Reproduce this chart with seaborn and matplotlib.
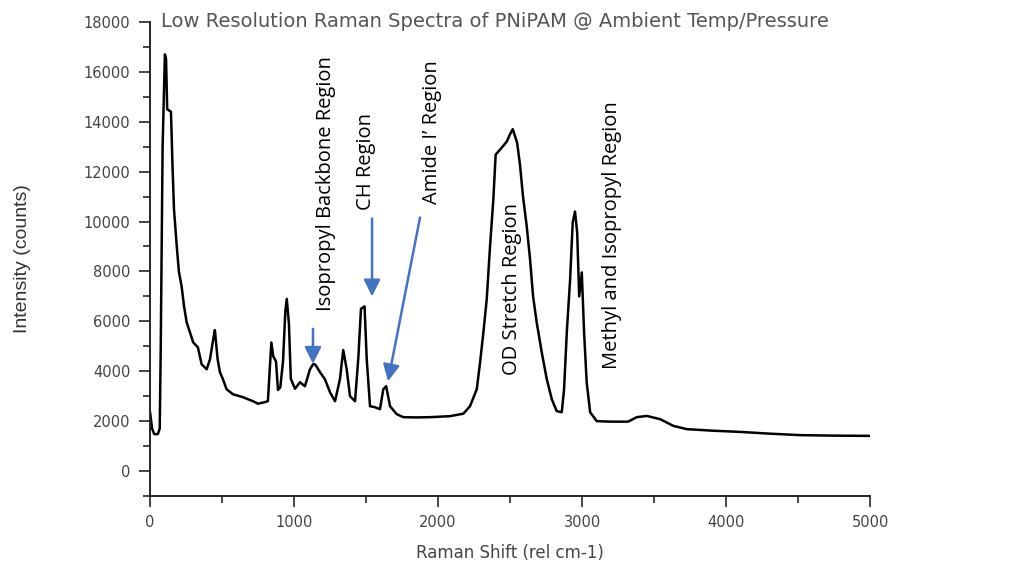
import matplotlib
matplotlib.use("Agg")
import matplotlib.pyplot as plt
from matplotlib.ticker import MultipleLocator
import seaborn as sns
import pandas as pd

# Raman spectrum
raman_shift = [0, 15, 30, 55, 68, 75, 88, 104, 112, 120, 146, 157, 167, 185, 201, 220, 237, 255, 278, 300,
               333, 359, 394, 417, 440, 451, 470, 486, 507, 532, 576, 646, 715, 750, 790, 819, 833, 843, 856, 875,
               889, 905, 924, 940, 950, 965, 978, 1007, 1042, 1076, 1111, 1135, 1150, 1181, 1215, 1250, 1285, 1319,
               1342, 1366, 1389, 1424, 1447, 1465, 1490, 1505, 1528, 1562, 1597, 1620, 1640, 1667, 1713, 1759, 1852,
               1944, 2083, 2176, 2222, 2269, 2292, 2315, 2338, 2361, 2384, 2400, 2442, 2477, 2500, 2519, 2549, 2569,
               2590, 2616, 2639, 2660, 2685, 2720, 2755, 2790, 2824, 2859, 2875, 2894, 2917, 2935, 2951, 2966, 2980,
               2998, 3014, 3032, 3056, 3102, 3200, 3319, 3380, 3449, 3542, 3634, 3727, 3900, 4097, 4300, 4514, 4750, 5000]
intensity = [2400, 1700, 1480, 1480, 1700, 4900, 13000, 16700, 16500, 14500, 14400, 12200, 10500, 9100, 8000, 7400,
             6600, 5960, 5560, 5160, 4960, 4280, 4080, 4480, 5300, 5650, 4480, 3960, 3680, 3280, 3080, 2960, 2800,
             2700, 2750, 2800, 4200, 5150, 4600, 4400, 3250, 3350, 4400, 6400, 6900, 5900, 3700, 3300, 3560, 3400,
             4080, 4300, 4250, 3960, 3680, 3160, 2800, 3680, 4850, 4080, 3000, 2800, 4560, 6500, 6600, 4480, 2600,
             2560, 2480, 3280, 3400, 2600, 2280, 2160, 2150, 2160, 2200, 2300, 2600, 3280, 4360, 5560, 6880, 9000,
             10880, 12680, 12960, 13200, 13500, 13700, 13160, 12280, 11000, 9800, 8480, 7000, 5960, 4760, 3680, 2880,
             2400, 2360, 3280, 5560, 7680, 9960, 10400, 9560, 7000, 7960, 5560, 3560, 2360, 2000, 1980, 1980, 2160,
             2210, 2080, 1810, 1680, 1620, 1570, 1500, 1440, 1420, 1410]

region_labels = ["Isopropyl Backbone Region", "CH Region", "Amide I\u2019 Region",
                 "OD Stretch Region", "Methyl and Isopropyl Region"]

title_text = "Low Resolution Raman Spectra of PNiPAM @ Ambient Temp/Pressure"
x_label = "Raman Shift (rel cm-1)"
y_label = "Intensity (counts)"

df = pd.DataFrame({"shift": raman_shift, "intensity": intensity})

sns.set_style("ticks")
plt.rcParams["font.family"] = ["DejaVu Sans"]

fig = plt.figure(figsize=(10.13, 5.62), dpi=100)
ax = fig.add_axes([0.148, 0.1174, 0.711, 0.8436])

sns.lineplot(data=df, x="shift", y="intensity", ax=ax, color="black", linewidth=1.8,
             sort=False, estimator=None)

ax.set_xlim(0, 5000)
ax.set_ylim(-1000, 18000)
ax.xaxis.set_major_locator(MultipleLocator(1000))
ax.xaxis.set_minor_locator(MultipleLocator(500))
ax.yaxis.set_major_locator(MultipleLocator(2000))
ax.yaxis.set_minor_locator(MultipleLocator(1000))
ax.tick_params(which="major", direction="out", length=8, width=1.2, labelsize=10.5,
               labelcolor="#444444", pad=6)
ax.tick_params(which="minor", direction="out", length=5, width=1.2)
sns.despine(ax=ax)
for s in ("left", "bottom"):
    ax.spines[s].set_linewidth(1.4)

ax.set_xlabel(x_label, fontsize=12, color="#444444", labelpad=10)
ax.set_ylabel(y_label, fontsize=14, color="#333333", family="Liberation Sans", labelpad=38)

fig.text(0.159, 0.962, title_text, fontsize=14, color="#555555", ha="left", va="center")

label_font = dict(family="Open Sans", fontsize=14.5, color="black", rotation=90,
                  ha="center", va="center")
label_pos = [(1222, 11520), (1500, 12400), (1958, 13600), (2514, 7280), (3208, 9440)]
for txt, (lx, ly) in zip(region_labels, label_pos):
    ax.text(lx, ly, txt, **label_font)

arrow_color = "#4472C4"
arrows = [((1132, 5700), (1132, 4300)),
          ((1542, 10120), (1542, 7000)),
          ((1875, 10160), (1653, 3600))]
for (sx, sy), (tx, ty) in arrows:
    ax.annotate("", xy=(tx, ty), xytext=(sx, sy),
                arrowprops=dict(arrowstyle="-|>,head_length=1.0,head_width=0.5", color=arrow_color,
                                lw=1.8, mutation_scale=10, shrinkA=0, shrinkB=0))

fig.savefig("out.png", dpi=100)
